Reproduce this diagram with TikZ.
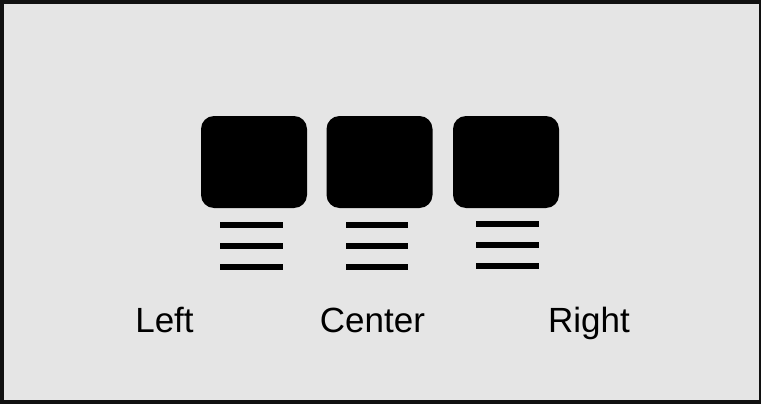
\documentclass[tikz,border=0pt]{standalone}
\usepackage{fontspec}
\setmainfont{Liberation Sans}
\usepackage{tikz}
\definecolor{panel}{HTML}{E5E5E5}
\definecolor{frame}{HTML}{111111}

\begin{document}
\begin{tikzpicture}[x=1pt,y=-1pt,
    lamp/.style={fill=black,rounded corners=13pt,minimum width=106pt,minimum height=92pt,inner sep=0pt},
    beam/.style={line width=6pt,black},
    tag/.style={anchor=base,font=\fontsize{35}{40}\selectfont}]
    \useasboundingbox (0,0) rectangle (761,404);
    \fill[frame] (0,0) rectangle (761,404);
    \fill[panel] (4,4) rectangle (759,400);
    \node[lamp] (left) at (254,162) {};
    \node[lamp] (center) at (379.5,162) {};
    \node[lamp] (right) at (506,162) {};
    \foreach \y in {225,246,267} {
      \draw[beam] (220,\y) -- (283,\y);
      \draw[beam] (346,\y) -- (408,\y);
    }
    \foreach \y in {224,245,266}
      \draw[beam] (476,\y) -- (539,\y);
    \node[tag] (lefttag) at (164.5,332) {Left};
    \node[tag] (centertag) at (372.5,332) {Center};
    \node[tag] (righttag) at (589,332) {Right};
  \end{tikzpicture}
\end{document}
